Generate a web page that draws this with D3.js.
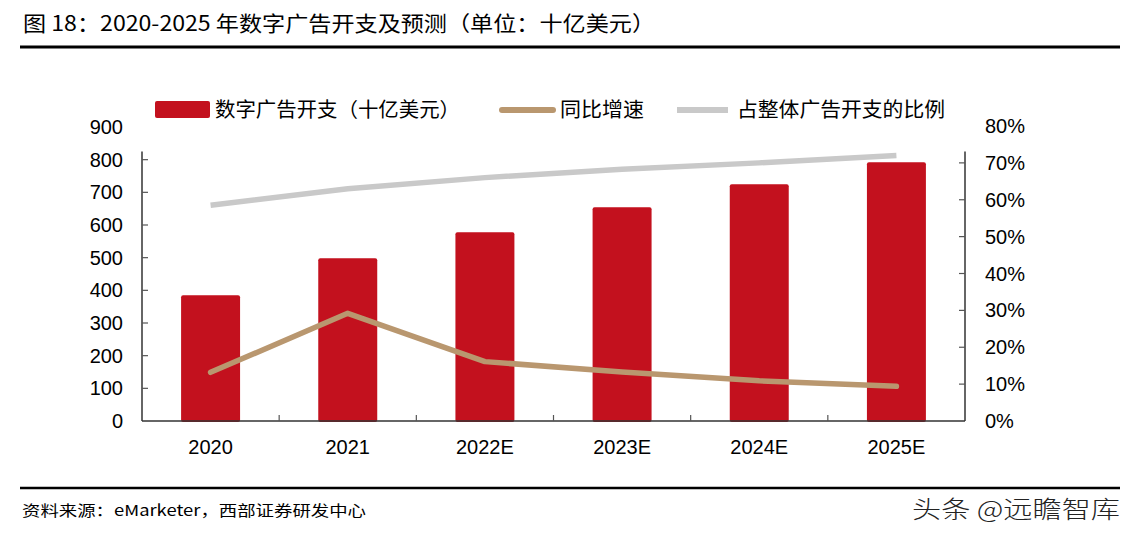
<!DOCTYPE html>
<html>
<head>
<meta charset="utf-8">
<script src="https://cdn.jsdelivr.net/npm/d3@7"></script>
<style>
  html, body { margin: 0; padding: 0; background: #fff; }
  svg { display: block; }
</style>
</head>
<body>
<svg id="chart" width="1132" height="539"></svg>
<script>
const categories = ["2020", "2021", "2022E", "2023E", "2024E", "2025E"];
const spendValues = [385, 498, 578, 654, 725, 792];
const growthValues = [0.132, 0.292, 0.161, 0.133, 0.109, 0.094];
const shareValues = [0.585, 0.630, 0.660, 0.683, 0.700, 0.720];
const leftTicks = [0, 100, 200, 300, 400, 500, 600, 700, 800, 900];
const rightTicks = [0, 0.1, 0.2, 0.3, 0.4, 0.5, 0.6, 0.7, 0.8];
const titleText = "图 18：2020-2025 年数字广告开支及预测（单位：十亿美元）";
const legendLabels = ["数字广告开支（十亿美元）", "同比增速", "占整体广告开支的比例"];
const sourceText = "资料来源：eMarketer，西部证券研发中心";
const watermarkText = "头条 @远瞻智库";

const colors = { bar: "#c3111e", growth: "#b9976f", share: "#c9c9c9" };
const numFont = "'Liberation Sans', Arial, sans-serif";
const cjkFont = "'Noto Sans CJK SC', 'Noto Sans', sans-serif";

const svg = d3.select("#chart");

// Title
svg.append("text").attr("x", 23).attr("y", 31)
  .attr("font-family", cjkFont).attr("font-size", 21)
  .attr("textLength", 632).attr("lengthAdjust", "spacingAndGlyphs")
  .attr("fill", "#000").text(titleText);
svg.append("line").attr("x1", 20).attr("x2", 1120).attr("y1", 47).attr("y2", 47)
  .attr("stroke", "#000").attr("stroke-width", 3);

// Scales
const plotLeft = 142, plotRight = 965, yBottom = 421;
const x = d3.scaleBand().domain(categories).range([plotLeft, plotRight]).padding(0);
const yL = d3.scaleLinear().domain([0, 900]).range([yBottom, 127]);
const yR = d3.scaleLinear().domain([0, 0.8]).range([yBottom, 126]);
const barW = x.bandwidth() * 0.43;

// Bars
svg.append("g").selectAll("rect").data(categories).join("rect")
  .attr("x", d => x(d) + x.bandwidth() / 2 - barW / 2)
  .attr("y", (d, i) => yL(spendValues[i]))
  .attr("width", barW)
  .attr("height", (d, i) => yBottom + 1 - yL(spendValues[i]))
  .attr("rx", 2)
  .attr("fill", colors.bar);

// Axes
const axisColor = "#333";
// left axis
const gL = svg.append("g").attr("transform", `translate(${plotLeft},0)`);
gL.append("line").attr("x1", 0).attr("x2", 0).attr("y1", yL(825)).attr("y2", yBottom)
  .attr("stroke", axisColor).attr("stroke-width", 1.5);
gL.selectAll("line.tick").data(leftTicks.filter(t => t > 0 && t < 900)).join("line")
  .attr("class", "tick").attr("x1", 0).attr("x2", 6)
  .attr("y1", d => yL(d)).attr("y2", d => yL(d))
  .attr("stroke", "#555").attr("stroke-width", 1.2);
gL.selectAll("text").data(leftTicks).join("text")
  .attr("x", -19).attr("y", d => yL(d)).attr("dy", "0.35em")
  .attr("text-anchor", "end").attr("font-family", numFont).attr("font-size", 20)
  .attr("fill", "#000").text(d => d);

// right axis
const gR = svg.append("g").attr("transform", `translate(${plotRight},0)`);
gR.append("line").attr("x1", 0).attr("x2", 0).attr("y1", yL(825)).attr("y2", yBottom)
  .attr("stroke", axisColor).attr("stroke-width", 1.5);
gR.selectAll("line.tick").data(rightTicks.filter(t => t > 0 && t < 0.75)).join("line")
  .attr("class", "tick").attr("x1", -6).attr("x2", 0)
  .attr("y1", d => yR(d)).attr("y2", d => yR(d))
  .attr("stroke", "#555").attr("stroke-width", 1.2);
gR.selectAll("text").data(rightTicks).join("text")
  .attr("x", 20).attr("y", d => yR(d)).attr("dy", "0.35em")
  .attr("text-anchor", "start").attr("font-family", numFont).attr("font-size", 20)
  .attr("fill", "#000").text(d => d3.format(".0%")(d));

// bottom axis
const gB = svg.append("g");
gB.append("line").attr("x1", plotLeft).attr("x2", plotRight).attr("y1", yBottom).attr("y2", yBottom)
  .attr("stroke", axisColor).attr("stroke-width", 1.5);
gB.selectAll("line.tick").data(categories.slice(1)).join("line")
  .attr("class", "tick").attr("x1", d => x(d)).attr("x2", d => x(d))
  .attr("y1", yBottom).attr("y2", yBottom - 6)
  .attr("stroke", "#555").attr("stroke-width", 1.2);
gB.selectAll("text").data(categories).join("text")
  .attr("x", d => x(d) + x.bandwidth() / 2).attr("y", 447).attr("dy", "0.35em")
  .attr("text-anchor", "middle").attr("font-family", numFont).attr("font-size", 20)
  .attr("fill", "#000").text(d => d);

// Lines
const cx = d => x(d) + x.bandwidth() / 2;
const shareLine = d3.line().x((d, i) => cx(categories[i])).y(d => yR(d));
svg.append("path").datum(shareValues).attr("d", shareLine)
  .attr("fill", "none").attr("stroke", colors.share).attr("stroke-width", 5.5);
svg.append("path").datum(growthValues).attr("d", shareLine)
  .attr("fill", "none").attr("stroke", colors.growth).attr("stroke-width", 5.5)
  .attr("stroke-linecap", "round").attr("stroke-linejoin", "round");

// Legend
const lg = svg.append("g");
lg.append("rect").attr("x", 155).attr("y", 101).attr("width", 55).attr("height", 17)
  .attr("rx", 2).attr("fill", colors.bar);
lg.append("text").attr("x", 215).attr("y", 110).attr("dy", "0.35em")
  .attr("font-family", cjkFont).attr("font-size", 20)
  .attr("textLength", 245).attr("lengthAdjust", "spacingAndGlyphs")
  .text(legendLabels[0]);
lg.append("line").attr("x1", 502).attr("x2", 553).attr("y1", 110).attr("y2", 110)
  .attr("stroke", colors.growth).attr("stroke-width", 6).attr("stroke-linecap", "round");
lg.append("text").attr("x", 560).attr("y", 110).attr("dy", "0.35em")
  .attr("font-family", cjkFont).attr("font-size", 20)
  .attr("textLength", 84).attr("lengthAdjust", "spacingAndGlyphs")
  .text(legendLabels[1]);
lg.append("line").attr("x1", 677).attr("x2", 728).attr("y1", 110).attr("y2", 110)
  .attr("stroke", colors.share).attr("stroke-width", 6);
lg.append("text").attr("x", 737).attr("y", 110).attr("dy", "0.35em")
  .attr("font-family", cjkFont).attr("font-size", 20)
  .attr("textLength", 208).attr("lengthAdjust", "spacingAndGlyphs")
  .text(legendLabels[2]);

// Footer
svg.append("line").attr("x1", 20).attr("x2", 1120).attr("y1", 488).attr("y2", 488)
  .attr("stroke", "#000").attr("stroke-width", 2.5);
svg.append("text").attr("x", 22).attr("y", 511).attr("dy", "0.35em")
  .attr("font-family", cjkFont).attr("font-size", 15)
  .attr("textLength", 344).attr("lengthAdjust", "spacingAndGlyphs")
  .text(sourceText);
svg.append("text").attr("x", 912).attr("y", 510).attr("dy", "0.35em")
  .attr("font-family", cjkFont).attr("font-size", 24).attr("font-weight", 300)
  .attr("textLength", 208).attr("lengthAdjust", "spacingAndGlyphs")
  .attr("fill", "#222")
  .text(watermarkText);
</script>
</body>
</html>
